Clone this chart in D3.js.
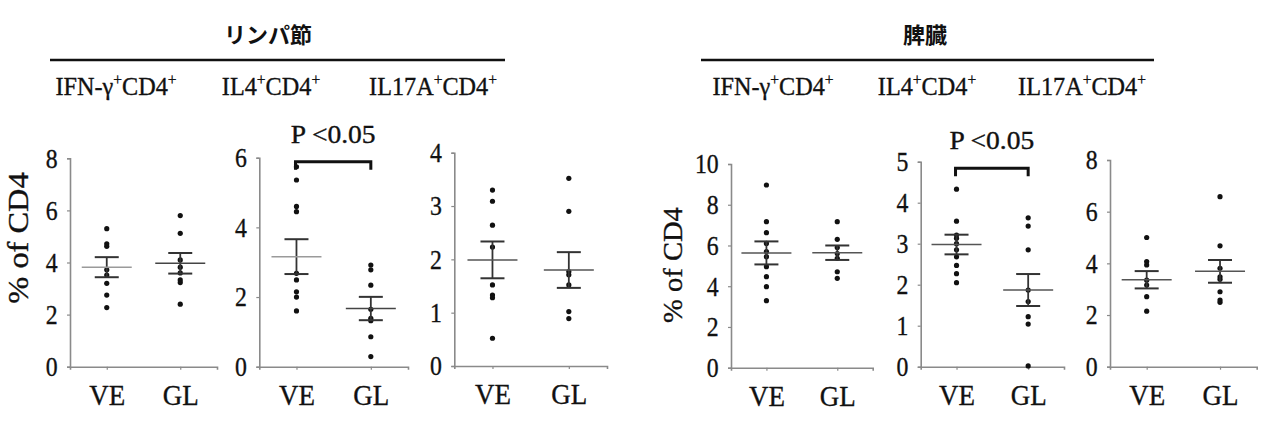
<!DOCTYPE html>
<html><head><meta charset="utf-8">
<script src="https://cdn.jsdelivr.net/npm/d3@7"></script>
<style>body{margin:0;background:#fff} svg{display:block}</style>
</head><body>
<script>
// ---------- data ----------
const groups = ["VE", "GL"];
const organTitles = ["リンパ節", "脾臓"];
const panelTitles = ["IFN-γ", "IL4", "IL17A", "IFN-γ", "IL4", "IL17A"];
const yMaxes = [8, 6, 4, 10, 5, 8];
const yTickValues = [[0,2,4,6,8],[0,2,4,6],[0,1,2,3,4],[0,2,4,6,8,10],[0,1,2,3,4,5],[0,2,4,6,8]];
const yLabel = "% of CD4";
const pLabel = "P <0.05";
const significantPanels = [1, 4];

const lnIfnVE  = [5.3, 4.72, 4.62, 3.72, 3.52, 3.2, 2.75, 2.27];
const lnIfnGL  = [5.8, 5.12, 4.1, 3.82, 3.6, 3.33, 3.23, 2.4];
const lnIl4VE  = [5.74, 5.36, 4.6, 4.45, 2.68, 2.49, 2.15, 2.0, 1.6];
const lnIl4GL  = [2.92, 2.78, 2.34, 1.65, 1.39, 1.32, 0.86, 0.29];
const lnIl17VE = [3.3, 3.09, 2.64, 2.23, 1.52, 1.33, 1.28, 0.52];
const lnIl17GL = [3.52, 2.9, 1.77, 1.71, 1.52, 1.02, 0.89];
const spIfnVE  = [8.97, 7.17, 6.63, 6.1, 5.7, 5.45, 4.96, 4.47, 3.98, 3.29];
const spIfnGL  = [7.17, 6.3, 5.9, 5.6, 5.37, 4.71, 4.39];
const spIl4VE  = [4.33, 3.55, 3.21, 3.13, 3.0, 2.85, 2.68, 2.47, 2.27, 2.05];
const spIl4GL  = [3.63, 3.43, 2.85, 1.87, 1.59, 1.22, 1.04, 0.02];
const spIl17VE = [5.0, 4.07, 3.94, 3.35, 3.16, 2.71, 2.15];
const spIl17GL = [6.58, 4.68, 3.81, 3.48, 3.38, 2.9, 2.58, 2.49];

const means = [[3.82, 3.97], [3.16, 1.67], [1.99, 1.80], [5.635, 5.645], [2.98, 1.87], [3.365, 3.69]];
const sems  = [[0.385, 0.395], [0.50, 0.335], [0.345, 0.335], [0.565, 0.355], [0.24, 0.39], [0.335, 0.44]];

const panelValues = [
  [lnIfnVE, lnIfnGL], [lnIl4VE, lnIl4GL], [lnIl17VE, lnIl17GL],
  [spIfnVE, spIfnGL], [spIl4VE, spIl4GL], [spIl17VE, spIl17GL]
];

// ---------- layout / style ----------
const W = 1284, H = 426;
const layout = [
  {x0: 70,    x1: 217,   yTop: 158.3, yBot: 366.7, title: 116,  meanCol: ["#9a9a9a", "#444"]},
  {x0: 259.3, x1: 408,   yTop: 157.7, yBot: 366.7, title: 271,  meanCol: ["#9a9a9a", "#444"]},
  {x0: 454.3, x1: 607,   yTop: 152.7, yBot: 366.0, title: 433,  meanCol: ["#555", "#555"]},
  {x0: 731,   x1: 872.7, yTop: 164.0, yBot: 367.7, title: 773,  meanCol: ["#555", "#555"]},
  {x0: 920.7, x1: 1064,  yTop: 161.7, yBot: 366.7, title: 927,  meanCol: ["#555", "#555"]},
  {x0: 1110,  x1: 1256.7,yTop: 160.0, yBot: 366.7, title: 1082, meanCol: ["#555", "#555"]}
];
const organLayout = [
  {cx: 268, x0: 50, x1: 505},
  {cx: 925, x0: 701, x1: 1154}
];
const yLabelLayout = [{panel: 0, x: 17, cy: 238, size: 30, sx: 1.08}, {panel: 3, x: 672, cy: 265, size: 28, sx: 1.02}];
const serif = "'Liberation Serif','Times New Roman',serif";
const ink = "#111";
const axisCol = "#8a8a8a";

const svg = d3.select("body").append("svg").attr("width", W).attr("height", H);

function heavy(sel) { return sel.attr("stroke", ink).attr("stroke-width", 0.35).attr("fill", ink); }

// organ headers
organLayout.forEach((o, i) => {
  svg.append("text").attr("x", o.cx).attr("y", 43).attr("text-anchor", "middle")
    .attr("font-family", "'Noto Sans CJK JP',sans-serif").attr("font-weight", 700)
    .attr("font-size", 22).attr("fill", ink).text(organTitles[i]);
  svg.append("line").attr("x1", o.x0).attr("x2", o.x1).attr("y1", 60).attr("y2", 60)
    .attr("stroke", ink).attr("stroke-width", 2.4);
});

panelValues.forEach((vals, pi) => {
  const L = layout[pi];
  const g = svg.append("g");
  const x = d3.scalePoint().domain(groups).range([L.x0, L.x1]).padding(0.5);
  const y = d3.scaleLinear().domain([0, yMaxes[pi]]).range([L.yBot, L.yTop]);

  // title
  const tt = heavy(svg.append("text").attr("transform", `translate(${L.title},95) scale(0.97,1)`)
    .attr("text-anchor", "middle").attr("font-family", serif).attr("font-size", 25));
  tt.append("tspan").text(panelTitles[pi]);
  tt.append("tspan").attr("font-size", 16).attr("dy", -10).text("+");
  tt.append("tspan").attr("dy", 10).text("CD4");
  tt.append("tspan").attr("font-size", 16).attr("dy", -10).text("+");

  // y axis
  const ya = g.append("g").attr("transform", `translate(${L.x0},0)`)
    .call(d3.axisLeft(y).tickValues(yTickValues[pi]).tickSize(3).tickPadding(11).tickFormat(d3.format("d")));
  ya.select(".domain").attr("stroke", axisCol).attr("stroke-width", 1.6);
  ya.selectAll(".tick line").attr("stroke", axisCol).attr("stroke-width", 1.2);
  heavy(ya.selectAll(".tick text")).attr("font-family", serif).attr("font-size", 27)
    .attr("transform", "scale(0.88,1)").attr("dy", "0.33em");

  // x axis
  const xa = g.append("g").attr("transform", `translate(0,${L.yBot})`)
    .call(d3.axisBottom(x).tickSize(3));
  xa.select(".domain").attr("stroke", axisCol).attr("stroke-width", 1.6);
  xa.selectAll(".tick line").attr("stroke", axisCol).attr("stroke-width", 1.2);
  heavy(xa.selectAll(".tick text")).attr("font-family", serif).attr("font-size", 30)
    .attr("y", 38).attr("dy", 0).attr("transform", "scale(0.9,1)");

  // dots + mean ± SEM
  groups.forEach((gr, gi) => {
    g.selectAll(null).data(vals[gi]).join("circle")
      .attr("cx", x(gr)).attr("cy", d => y(d)).attr("r", 2.6).attr("fill", ink);
    const m = means[pi][gi], s = sems[pi][gi], cx = x(gr);
    g.append("line").attr("x1", cx).attr("x2", cx).attr("y1", y(m + s)).attr("y2", y(m - s))
      .attr("stroke", "#333").attr("stroke-width", 1.8);
    [m + s, m - s].forEach(v => g.append("line").attr("x1", cx - 12).attr("x2", cx + 12)
      .attr("y1", y(v)).attr("y2", y(v)).attr("stroke", "#333").attr("stroke-width", 2));
    g.append("line").attr("x1", cx - 25).attr("x2", cx + 25).attr("y1", y(m)).attr("y2", y(m))
      .attr("stroke", L.meanCol[gi]).attr("stroke-width", 1.5);
  });

  // significance bracket
  if (significantPanels.includes(pi)) {
    const xa0 = x(groups[0]) - 1, xa1 = x(groups[1]);
    const top = pi === 1 ? 161.7 : 168.3;
    g.append("path").attr("d", `M${xa0},${top + 8}V${top}H${xa1}V${top + 8}`)
      .attr("fill", "none").attr("stroke", ink).attr("stroke-width", 3);
    heavy(g.append("text").attr("transform", `translate(${(xa0 + xa1) / 2},${top - 19}) scale(1.1,1)`)
      .attr("text-anchor", "middle").attr("font-family", serif).attr("font-size", 25))
      .text(pLabel);
  }
});

// y labels
yLabelLayout.forEach(l => {
  heavy(svg.append("text").attr("transform", `translate(${l.x + l.size * 0.35},${l.cy}) rotate(-90) scale(${l.sx},1)`)
    .attr("text-anchor", "middle").attr("font-family", serif).attr("font-size", l.size))
    .text(yLabel);
});
</script>
</body></html>
